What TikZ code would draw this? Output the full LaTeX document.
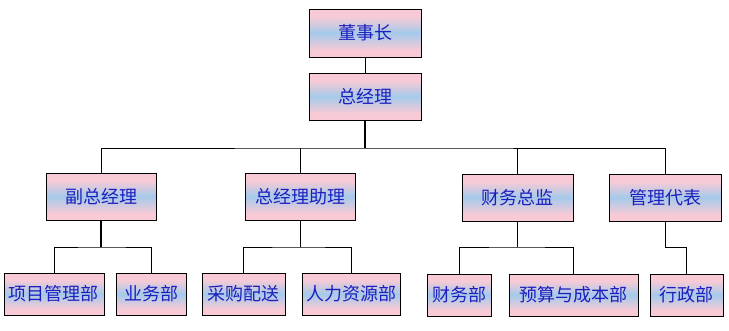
\documentclass[tikz,border=0pt]{standalone}
\usepackage{fontspec}
\setmainfont{Noto Sans CJK SC}
\definecolor{boxpink}{RGB}{248,202,214}
\definecolor{boxblue}{RGB}{165,202,234}
\definecolor{txtblue}{RGB}{30,30,190}
\pgfdeclareverticalshading{orgshade}{100bp}{color(0bp)=(boxpink); color(25bp)=(boxpink); color(32bp)=(boxpink); color(50bp)=(boxblue); color(67bp)=(boxpink); color(75bp)=(boxpink); color(100bp)=(boxpink)}
\tikzset{
  orgbox/.style={draw=black, line width=1pt, shading=orgshade,
    minimum height=#1, inner sep=0pt, text=txtblue, font=\fontsize{18pt}{20pt}\selectfont},
  orgbox/.default=47pt,
  link/.style={draw=black, line width=1pt},
  thicklink/.style={draw=black, line width=2pt}
}
\begin{document}
\begin{tikzpicture}[x=1pt,y=-1pt]
\useasboundingbox (0,0) rectangle (729,330);
\fill[white] (0,0) rectangle (729,330);
% top levels
\node[orgbox=48pt, minimum width=112pt] (dsz) at (365,33) {董事长};
\node[orgbox, minimum width=112pt] (zjl) at (365,96.5) {总经理};
% second level
\node[orgbox, minimum width=110pt] (fz) at (101,196.5) {副总经理};
\node[orgbox, minimum width=110pt] (zz) at (300,196.5) {总经理助理};
\node[orgbox, minimum width=111pt] (cw) at (517.5,197.5) {财务总监};
\node[orgbox, minimum width=112pt] (gl) at (665,197.5) {管理代表};
% third level
\node[orgbox=42pt, minimum width=100pt] (xm) at (54,294) {项目管理部};
\node[orgbox=42pt, minimum width=70pt] (yw) at (151,294) {业务部};
\node[orgbox=42pt, minimum width=83pt] (cg) at (243.5,294) {采购配送};
\node[orgbox=42pt, minimum width=98pt] (rl) at (351,294) {人力资源部};
\node[orgbox=42pt, minimum width=64pt] (cwb) at (459,295) {财务部};
\node[orgbox=42pt, minimum width=129pt] (ys) at (573.5,295) {预算与成本部};
\node[orgbox=42pt, minimum width=73pt] (xz) at (686.5,295) {行政部};
% junction levels
\coordinate (h1) at (365,148);
\coordinate (h2) at (0,247);
% connectors
\draw[link] (dsz) -- (zjl);
\draw[thicklink] (zjl.south) -- (h1);
\draw[link] (fz.north) |- (h1) -| (gl.north);
\draw[link] (zz.north) -- (zz.north |- h1);
\draw[link] (cw.north) -- (cw.north |- h1);
\draw[thicklink] (fz.south) -- (fz.south |- h2);
\draw[link] (xm.north) |- (fz.south |- h2) -| (yw.north);
\draw[link] (zz.south) -- (zz.south |- h2);
\draw[link] (cg.north) |- (zz.south |- h2) -| (rl.north);
\draw[link] (cw.south) -- (cw.south |- h2);
\draw[link] (cwb.north) |- (cw.south |- h2) -| (ys.north);
\draw[link] (gl.south) -- (gl.south |- h2) -| (xz.north);
\end{tikzpicture}
\end{document}
